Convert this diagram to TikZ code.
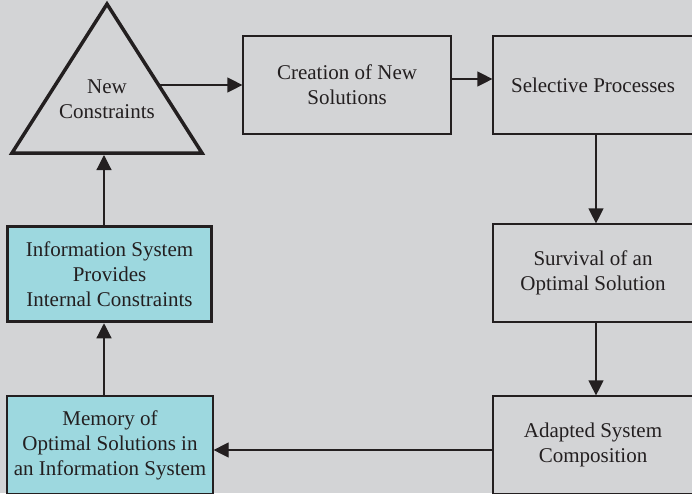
\documentclass[tikz,border=0pt]{standalone}
\usepackage{fontspec}
\setmainfont{Liberation Serif}
\usepackage{tikz}
\usepackage{xcolor}
\usetikzlibrary{arrows.meta, calc}
\definecolor{cBack}{RGB}{211,212,214}
\definecolor{cTeal}{RGB}{157,216,223}
\definecolor{cInk}{RGB}{35,31,32}
\tikzset{
	stage/.style    ={rectangle, draw=cInk, line width=1.2pt, minimum width=200pt, minimum height=98pt, align=center, inner sep=2pt},
	memblk/.style   ={stage, fill=cTeal, minimum width=206pt},
	infoblk/.style  ={stage, fill=cTeal, line width=3.5pt, minimum width=204pt, minimum height=95pt},
	flowarrow/.style={-{Triangle[length=15pt, width=15pt]}, line width=1.2pt, draw=cInk},
}
\begin{document}
\begin{tikzpicture}[x=1pt, y=-1pt, font=\fontsize{21}{25}\selectfont, text=cInk]
			\fill[cBack] (0,0) rectangle (692,493);
			\useasboundingbox (0,0) rectangle (692,493);
			\clip (0,0) rectangle (692,493);
			% triangle with its anchor points
			\coordinate (tri-a) at (107,4);
			\coordinate (tri-l) at (12,153);
			\coordinate (tri-r) at (202,153);
			\coordinate (tri-e) at (159,85);
			\coordinate (tri-b) at (104,155);
			\draw[cInk, line width=3.5pt, line join=miter] (tri-a) -- (tri-l) -- (tri-r) -- cycle;
			\node[align=center] (nc) at (107,99) {New\\Constraints};
			% top row and right column
			\node[stage, minimum width=208pt] (cre) at (347,85) {Creation of New\\Solutions};
			\node[stage] (sel) at (593,85) {Selective Processes};
			\node[stage] (surv) at (593,273) {Survival of an\\Optimal Solution};
			\node[stage] (adap) at (593,445) {Adapted System\\Composition};
			% left column
			\node[infoblk] (info) at (109.5,274) {Information System\\Provides\\Internal Constraints};
			\node[memblk] (mem) at (110,445) {Memory of\\Optimal Solutions in\\an Information System};
			\draw[flowarrow] (tri-e) -- (cre.west |- tri-e);
			\draw[flowarrow] ([yshift=6pt]cre.east) -- ([yshift=6pt]sel.west);
			\draw[flowarrow] ([xshift=3pt]sel.south) -- ([xshift=3pt]surv.north);
			\draw[flowarrow] ([xshift=3pt]surv.south) -- ([xshift=3pt]adap.north);
			\draw[flowarrow] ([yshift=-5pt]adap.west) -- ([yshift=-5pt]mem.east);
			\draw[flowarrow] (mem.north -| tri-b) -- (info.south -| tri-b);
			\draw[flowarrow] (info.north -| tri-b) -- (tri-b);
		\end{tikzpicture}
\end{document}
